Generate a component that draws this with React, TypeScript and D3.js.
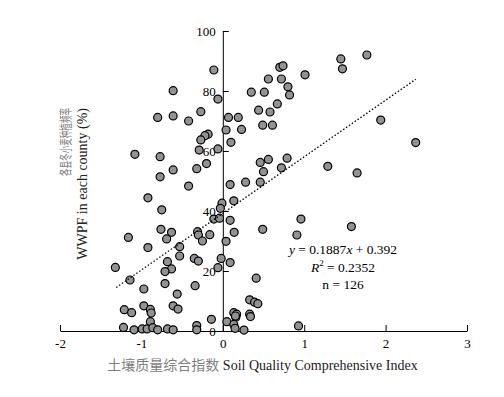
import React, { useEffect, useRef } from 'react';
import * as d3 from 'd3';

// soil quality index (x) and winter wheat planting frequency in % (y)
const sqi = [
  -0.11, -0.61, -0.80, -0.61, -0.42, -0.27, -0.18, -0.22, -0.27, -0.29,
  -1.08, -0.77, -0.61, -0.32, -0.20, -0.77, -0.42, -0.06, -0.06,
  0.04, 0.07, 0.19, 0.23, 0.10, 0.35, 0.51, 0.56, 0.70, 0.74,
  0.72, 0.80, 0.82, 1.01, 0.44, 0.58, 0.67, 0.49, 0.61, 0.46,
  0.56, 0.79, 0.50, 0.72, 0.09, 0.28, 0.46,
  1.45, 1.47, 1.77, 1.94, 2.37, 1.29, 1.65, 1.58,
  -0.92, -0.75, -0.11, -1.16, -0.76, -0.63, -0.69, -0.92, -0.53, -0.31,
  -0.30, -0.25, -0.16, -0.53, -0.68, -0.35, -0.30, -0.63, -0.71, -1.32,
  -1.14, -0.71, -0.34, -0.97, -0.56, -0.97, -0.89, -0.88, -1.21, -1.12,
  -0.61, -0.55, -0.89, -1.22, -1.09, -0.99, -0.93, -0.86, -0.80, -0.68,
  -0.61, -0.32, -0.32, -0.14,
  -0.01, -0.03, 0.135, -0.04, 0.09, 0.14, 0.04, 0.49, 0.96, 0.91,
  -0.02, -0.06, 0.09, 0.41, 0.33, 0.39, 0.43, 0.33, 0.34, 0.135,
  0.17, 0.16, 0.05, 0.135, 0.15, 0.26, 0.93, 0.155,
];
const wwpf = [
  87, 80.1, 71.2, 71.7, 70, 73.1, 65.6, 65.1, 63.7, 60.3,
  58.9, 58.1, 53.7, 54.1, 55.8, 51.4, 48.3, 77.3, 60.7,
  67, 71.2, 71.2, 67.2, 62.9, 79.6, 79.6, 84, 87.9, 88.4,
  84, 81.4, 78.7, 85.4, 73.6, 73, 75.7, 68.6, 68.6, 56.2,
  57.2, 57.6, 53.1, 54.4, 48.8, 49.6, 49.6,
  90.7, 87.4, 92, 70.3, 62.8, 54.9, 52.7, 34.8,
  44.4, 40.4, 37.3, 31.2, 33.9, 32.9, 30.7, 27.8, 28.1, 33.1,
  32, 30, 32.1, 25, 23.1, 24.2, 23.3, 20.7, 19.8, 21.2,
  17, 15.8, 15.1, 14, 12.3, 8.4, 7.2, 6, 7.1, 6.1,
  8.4, 7.3, 3.1, 1.2, 0.4, 0.7, 0.7, 1.1, 0.4, 0.7,
  0.4, 1.8, 0.4, 3.9,
  42.6, 40.9, 43.4, 37.6, 36.9, 32.9, 29.9, 33.9, 37.3, 32,
  24.2, 21.1, 22.8, 17.6, 10.4, 9.6, 9.1, 5.6, 4.8, 6.1,
  5.6, 4.6, 3.1, 2.2, 0.9, 0.3, 1.7, 5.0,
];

const xTicks = [-2, -1, 0, 1, 2, 3];
const yTicks = [0, 20, 40, 60, 80, 100];

// fitted trend line y = 0.1887x + 0.392 (fraction), drawn over this x range
const fitSlope = 0.1887;
const fitIntercept = 0.392;
const fitRange = [-1.31, 2.37];

const serif = '"Liberation Serif", "Times New Roman", serif';
const cjk = '"Noto Sans CJK SC", sans-serif';

const App: React.FC = () => {
  const svgRef = useRef<SVGSVGElement>(null);

  useEffect(() => {
    if (!svgRef.current) return;
    const svg = d3.select(svgRef.current);
    svg.selectAll('*').remove();

    const x = d3.scaleLinear().domain([-2, 3]).range([60, 467]);
    const y = d3.scaleLinear().domain([0, 100]).range([331, 31]);

    // y axis sits at x = 0, ticks pointing inward
    const yAxis = svg.append('g')
      .attr('transform', `translate(${x(0)},0)`)
      .call(d3.axisLeft(y).tickValues(yTicks).tickSizeInner(-6).tickSizeOuter(0)
        .tickPadding(7).tickFormat(d => String(d)));

    const xAxis = svg.append('g')
      .attr('transform', `translate(0,${y(0)})`)
      .call(d3.axisBottom(x).tickValues(xTicks).tickSizeInner(-6).tickSizeOuter(0)
        .tickPadding(8).tickFormat(d => String(d)));

    [xAxis, yAxis].forEach(a => {
      a.selectAll('text')
        .attr('fill', '#000')
        .style('font-family', serif)
        .style('font-size', '13px');
      a.selectAll('path, line').attr('stroke', '#000');
    });

    // points
    svg.append('g')
      .selectAll('circle')
      .data(sqi.map((v, i) => [v, wwpf[i]]))
      .join('circle')
      .attr('cx', d => x(d[0]))
      .attr('cy', d => y(d[1]))
      .attr('r', 4)
      .attr('fill', '#929292')
      .attr('stroke', '#000')
      .attr('stroke-width', 1.2);

    // dotted regression line
    const line = d3.line<number>()
      .x(d => x(d))
      .y(d => y((fitSlope * d + fitIntercept) * 100));
    svg.append('path')
      .attr('d', line(fitRange))
      .attr('fill', 'none')
      .attr('stroke', '#000')
      .attr('stroke-width', 1.3)
      .attr('stroke-dasharray', '1.5,2');

    // equation block
    const eq = svg.append('g')
      .attr('font-family', serif)
      .attr('font-size', '13.5px')
      .attr('text-anchor', 'middle');
    const l1 = eq.append('text').attr('x', 343).attr('y', 254);
    l1.append('tspan').attr('font-style', 'italic').text('y');
    l1.append('tspan').text(` = ${fitSlope}`);
    l1.append('tspan').attr('font-style', 'italic').text('x');
    l1.append('tspan').text(` + ${fitIntercept}`);
    const l2 = eq.append('text').attr('x', 343).attr('y', 271.5);
    l2.append('tspan').attr('font-style', 'italic').text('R');
    l2.append('tspan').attr('font-size', '9px').attr('dy', -6).text('2');
    l2.append('tspan').attr('dy', 6).text(' = 0.2352');
    eq.append('text').attr('x', 343).attr('y', 289).text('n = 126');

    // y axis title, two rotated lines
    svg.append('text')
      .attr('transform', 'translate(70,108) rotate(-90)')
      .attr('text-anchor', 'end')
      .attr('fill', '#808080')
      .attr('textLength', 68)
      .attr('lengthAdjust', 'spacingAndGlyphs')
      .style('font-family', cjk)
      .style('font-size', '13px')
      .text('各县冬小麦种植频率');
    svg.append('text')
      .attr('transform', 'translate(87,108) rotate(-90)')
      .attr('text-anchor', 'end')
      .attr('fill', '#222')
      .style('font-family', serif)
      .style('font-size', '14px')
      .text('WWPF in each county (%)');

    // x axis title
    const xt = svg.append('text')
      .attr('x', 262.5)
      .attr('y', 370)
      .attr('text-anchor', 'middle')
      .style('font-size', '14px');
    xt.append('tspan').attr('fill', '#808080').style('font-family', cjk).text('土壤质量综合指数');
    xt.append('tspan').attr('fill', '#222').style('font-family', serif).text(' Soil Quality Comprehensive Index');
  }, []);

  return (
    <svg ref={svgRef} width={504} height={397}
      style={{ position: 'absolute', left: 0, top: 0, background: '#fff' }} />
  );
};

export default App;
